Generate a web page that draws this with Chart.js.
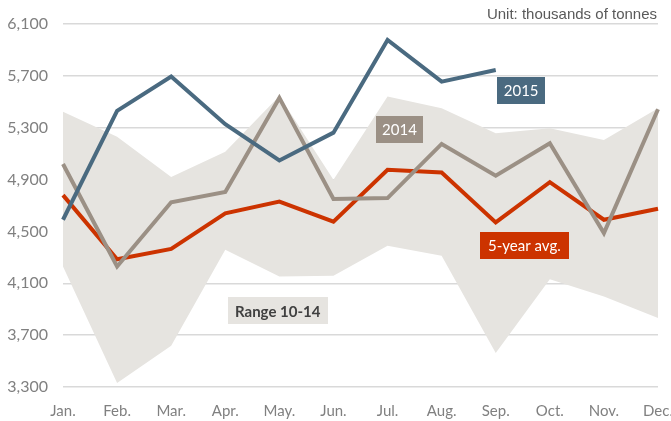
<!DOCTYPE html>
<html>
<head>
<meta charset="utf-8">
<script src="https://cdn.jsdelivr.net/npm/chart.js@4"></script>
<style>
  html, body { margin: 0; padding: 0; background: #fff; }
  #wrap { width: 671px; height: 421px; position: relative; }
</style>
</head>
<body>
<div id="wrap"><canvas id="productionChart"></canvas></div>
<script>
const months = ["Jan.", "Feb.", "Mar.", "Apr.", "May.", "Jun.", "Jul.", "Aug.", "Sep.", "Oct.", "Nov.", "Dec."];
const yTicks = [3300, 3700, 4100, 4500, 4900, 5300, 5700, 6100];

const rangeLow = [4230, 3330, 3618, 4358, 4152, 4158, 4389, 4312, 3562, 4132, 3998, 3832];
const rangeHigh = [5424, 5230, 4920, 5115, 5545, 4898, 5540, 5450, 5258, 5296, 5206, 5450];
const avg5 = [4780, 4285, 4365, 4640, 4730, 4575, 4975, 4955, 4570, 4880, 4590, 4675];
const y2014 = [5020, 4230, 4725, 4805, 5530, 4750, 4757, 5175, 4930, 5180, 4487, 5442];
const y2015 = [4590, 5430, 5695, 5327, 5047, 5262, 5977, 5655, 5745, null, null, null];

// series tags: position given as (month index, value)
const tags = [
  { text: "2015", i: 8.47, v: 5587, w: 48, bg: "#4a6a80", fg: "#fff", bold: false },
  { text: "2014", i: 6.22, v: 5287, w: 47, bg: "#9b9085", fg: "#fff", bold: false },
  { text: "5-year avg.", i: 8.53, v: 4393, w: 89, bg: "#cc3300", fg: "#fff", bold: false },
  { text: "Range 10-14", i: 3.97, v: 3888, w: 100, bg: "#e6e4e0", fg: "#404040", bold: true }
];

const tagPlugin = {
  id: "tags",
  afterDraw(chart) {
    const ctx = chart.ctx;
    const xs = chart.scales.x, ys = chart.scales.y;
    ctx.save();
    tags.forEach(t => {
      const cx = xs.getPixelForValue(t.i);
      const cy = ys.getPixelForValue(t.v);
      const h = 27;
      ctx.fillStyle = t.bg;
      ctx.fillRect(Math.round(cx - t.w / 2), Math.round(cy - h / 2), t.w, h);
      ctx.fillStyle = t.fg;
      ctx.font = (t.bold ? "bold " : "") + "15px Lato";
      ctx.textAlign = "center";
      ctx.textBaseline = "middle";
      ctx.fillText(t.text, cx, cy + 1);
    });
    // unit note
    ctx.fillStyle = "#595959";
    ctx.font = "15px 'Liberation Sans'";
    ctx.textAlign = "right";
    ctx.textBaseline = "alphabetic";
    ctx.fillText("Unit: thousands of tonnes", chart.chartArea.right - 1, 19);
    ctx.restore();
  }
};

const canvas = document.getElementById("productionChart");
const ctx = canvas.getContext("2d");

new Chart(ctx, {
  type: "line",
  data: {
    labels: months,
    datasets: [
      {
        label: "Range low",
        data: rangeLow,
        borderWidth: 0,
        pointRadius: 0,
        fill: false,
        order: 5
      },
      {
        label: "Range 10-14",
        data: rangeHigh,
        borderWidth: 0,
        pointRadius: 0,
        backgroundColor: "#e6e4e0",
        fill: "-1",
        order: 4
      },
      {
        label: "5-year avg.",
        data: avg5,
        borderColor: "#cc3300",
        borderWidth: 4,
        pointRadius: 0,
        borderJoinStyle: "miter",
        fill: false,
        order: 3
      },
      {
        label: "2014",
        data: y2014,
        borderColor: "#9b9085",
        borderWidth: 4,
        pointRadius: 0,
        borderJoinStyle: "miter",
        fill: false,
        order: 2
      },
      {
        label: "2015",
        data: y2015,
        borderColor: "#4a6a80",
        borderWidth: 4,
        pointRadius: 0,
        borderJoinStyle: "miter",
        fill: false,
        order: 1
      }
    ]
  },
  options: {
    responsive: true,
    maintainAspectRatio: false,
    animation: false,
    layout: { padding: { top: 24, right: 13, left: 0, bottom: 0 } },
    plugins: {
      legend: { display: false },
      tooltip: { enabled: false }
    },
    scales: {
      x: {
        offset: false,
        grid: { display: false },
        border: { display: false },
        ticks: {
          color: "#808080",
          font: { family: "Lato", size: 15 },
          padding: 7,
          maxRotation: 0,
          autoSkip: false
        },
        afterFit(scale) {
          scale.height = 34;
          scale.paddingLeft = 0;
          scale.paddingRight = 0;
        }
      },
      y: {
        min: 3300,
        max: 6100,
        afterBuildTicks(scale) {
          scale.ticks = yTicks.map(v => ({ value: v }));
        },
        grid: { color: "#d9d9d9", lineWidth: 1.5, drawTicks: false },
        border: { display: false },
        ticks: {
          color: "#808080",
          font: { family: "Lato", size: 16 },
          padding: 15,
          callback: v => v.toLocaleString("en-US")
        },
        afterFit(scale) {
          scale.width = 63;
          scale.paddingTop = 0;
          scale.paddingBottom = 0;
        }
      }
    }
  },
  plugins: [tagPlugin]
});
</script>
</body>
</html>
